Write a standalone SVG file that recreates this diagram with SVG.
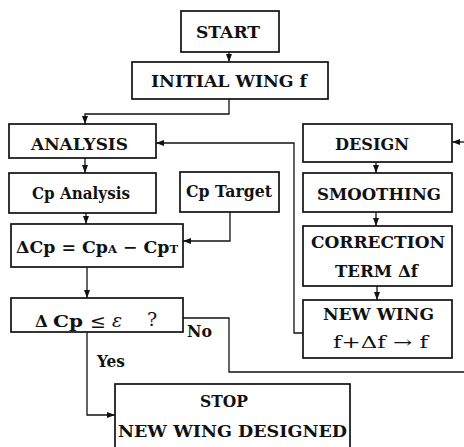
<svg xmlns="http://www.w3.org/2000/svg" width="464" height="447" viewBox="0 0 464 447">
  <defs>
    <marker id="arrow" viewBox="0 0 8 6" refX="8" refY="3" markerWidth="8" markerHeight="6" markerUnits="userSpaceOnUse" orient="auto">
      <path d="M0,0 L8,3 L0,6 Z" fill="#111"/>
    </marker>
    <style>
      .box { fill: #fff; stroke: #111; stroke-width: 1.7; }
      .link { fill: none; stroke: #111; stroke-width: 1.3; }
      .arr { marker-end: url(#arrow); }
      text { font-family: "DejaVu Serif", "Liberation Serif", serif; font-weight: bold; font-size: 16.5px; fill: #111; }
      .mid { text-anchor: middle; }
      .light { font-weight: normal; }
      .sym { font-weight: normal; font-size: 19px; }
      .sub { font-size: 11px; }
    </style>
  </defs>
  <rect width="464" height="447" fill="#fff"/>

  <g id="connectors">
    <path class="link arr" d="M229,52 V62"/>
    <path class="link arr" d="M229,99 V114 H85 V124"/>
    <path class="link arr" d="M85,158 V173"/>
    <path class="link arr" d="M86,213 V224"/>
    <path class="link arr" d="M230,212 V241 H183"/>
    <path class="link arr" d="M87,267 V298"/>
    <path class="link arr" d="M87,332 V415 H115"/>
    <path class="link" d="M183,318 H229 V372 H466"/>
    <path class="link arr" d="M466,142 H452"/>
    <path class="link arr" d="M376,162 V173"/>
    <path class="link arr" d="M376,212 V226"/>
    <path class="link arr" d="M377,286 V300"/>
    <path class="link arr" d="M303,333 H294 V143 H156"/>
  </g>

  <g id="start">
    <rect class="box" x="181" y="11" width="98" height="41"/>
    <text class="mid" x="228" y="38" textLength="64" lengthAdjust="spacingAndGlyphs">START</text>
  </g>
  <g id="initial-wing">
    <rect class="box" x="132" y="62" width="196" height="37"/>
    <text class="mid" x="229" y="87" textLength="156" lengthAdjust="spacingAndGlyphs">INITIAL WING f</text>
  </g>
  <g id="analysis">
    <rect class="box" x="9" y="124" width="147" height="34"/>
    <text class="mid" x="79.5" y="150" textLength="97" lengthAdjust="spacingAndGlyphs">ANALYSIS</text>
  </g>
  <g id="cp-analysis">
    <rect class="box" x="9" y="173" width="147" height="40"/>
    <text class="mid" x="81" y="199" textLength="98" lengthAdjust="spacingAndGlyphs">Cp Analysis</text>
  </g>
  <g id="cp-target">
    <rect class="box" x="180" y="172" width="99" height="40"/>
    <text class="mid" x="229" y="197" textLength="86" lengthAdjust="spacingAndGlyphs">Cp Target</text>
  </g>
  <g id="delta-cp">
    <rect class="box" x="11" y="224" width="172" height="43"/>
    <text x="16" y="253" textLength="162" lengthAdjust="spacingAndGlyphs">ΔCp = Cp<tspan class="sub">A</tspan> − Cp<tspan class="sub">T</tspan></text>
  </g>
  <g id="check">
    <rect class="box" x="11" y="298" width="172" height="34"/>
    <text x="35" y="327">Δ</text>
    <text x="53" y="327" textLength="30" lengthAdjust="spacingAndGlyphs">Cp</text>
    <text x="90" y="328" class="sym">≤</text>
    <text x="112" y="327" class="sym" font-style="italic">ε</text>
    <text x="147" y="326" class="sym">?</text>
    <text x="187" y="337" textLength="25" lengthAdjust="spacingAndGlyphs">No</text>
    <text x="97" y="367" textLength="28" lengthAdjust="spacingAndGlyphs">Yes</text>
  </g>
  <g id="design">
    <rect class="box" x="303" y="124" width="149" height="38"/>
    <text class="mid" x="372" y="150" textLength="74" lengthAdjust="spacingAndGlyphs">DESIGN</text>
  </g>
  <g id="smoothing">
    <rect class="box" x="303" y="173" width="149" height="39"/>
    <text class="mid" x="379" y="200" textLength="124" lengthAdjust="spacingAndGlyphs">SMOOTHING</text>
  </g>
  <g id="correction">
    <rect class="box" x="303" y="226" width="149" height="60"/>
    <text class="mid" x="378" y="248" textLength="134" lengthAdjust="spacingAndGlyphs">CORRECTION</text>
    <text class="mid" x="376.5" y="277" textLength="83" lengthAdjust="spacingAndGlyphs">TERM Δf</text>
  </g>
  <g id="new-wing">
    <rect class="box" x="303" y="300" width="149" height="58"/>
    <text class="mid" x="378.5" y="320" textLength="111" lengthAdjust="spacingAndGlyphs">NEW WING</text>
    <text class="mid light" x="380.5" y="348" textLength="95" lengthAdjust="spacingAndGlyphs">f+Δf → f</text>
  </g>
  <g id="stop">
    <rect class="box" x="115" y="384" width="235" height="70"/>
    <text class="mid" x="224" y="407" textLength="48" lengthAdjust="spacingAndGlyphs">STOP</text>
    <text class="mid" x="232.5" y="437" textLength="229" lengthAdjust="spacingAndGlyphs">NEW WING DESIGNED</text>
  </g>
</svg>
